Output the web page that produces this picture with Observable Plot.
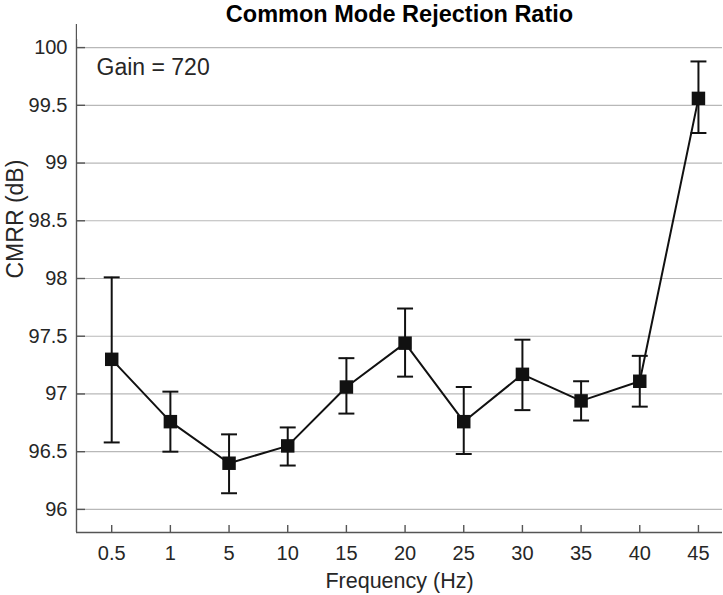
<!DOCTYPE html>
<html>
<head>
<meta charset="utf-8">
<script src="https://cdn.jsdelivr.net/npm/d3@7"></script>
<script src="https://cdn.jsdelivr.net/npm/@observablehq/plot@0.6"></script>
<style>
  html, body { margin: 0; padding: 0; background: #fff; }
  #chart { width: 723px; height: 595px; }
</style>
</head>
<body>
<div id="chart"></div>
<script>
const chartTitle = "Common Mode Rejection Ratio";
const xLabel = "Frequency (Hz)";
const yLabel = "CMRR (dB)";
const annotation = "Gain = 720";

const freqLabels = ["0.5", "1", "5", "10", "15", "20", "25", "30", "35", "40", "45"];
const cmrr     = [97.30, 96.76, 96.40, 96.55, 97.06, 97.44, 96.76, 97.17, 96.94, 97.11, 99.56];
const errUpper = [98.01, 97.02, 96.65, 96.71, 97.31, 97.74, 97.06, 97.47, 97.11, 97.33, 99.88];
const errLower = [96.58, 96.50, 96.14, 96.38, 96.83, 97.15, 96.48, 96.86, 96.77, 96.89, 99.26];
const yTicks = [96, 96.5, 97, 97.5, 98, 98.5, 99, 99.5, 100];
const yDomain = [95.8, 100.2];
const xDomain = [0.4, 11.41];

const data = freqLabels.map((f, k) => ({
  idx: k + 1, freq: f, v: cmrr[k], hi: errUpper[k], lo: errLower[k]
}));
const xIdx = data.map(d => d.idx);

const capSymbol = {
  draw(context, size) {
    const w = Math.sqrt(size);
    context.moveTo(-w / 2, 0);
    context.lineTo(w / 2, 0);
  }
};

const ink = "#111111";
const textColor = "#262626";

const plot = Plot.plot({
  width: 723,
  height: 595,
  marginTop: 24,
  marginBottom: 63,
  marginLeft: 76,
  marginRight: 1,
  style: { fontFamily: "'Liberation Sans', Arial, sans-serif", color: textColor, background: "#fff" },
  x: { type: "linear", domain: xDomain },
  y: { domain: yDomain },
  marks: [
    Plot.gridY(yTicks, { stroke: "#b8b8b8", strokeOpacity: 1, strokeWidth: 1.2 }),
    Plot.ruleX([xDomain[0]], { stroke: "#555", strokeWidth: 1.4 }),
    Plot.ruleY([yDomain[0]], { stroke: "#555", strokeWidth: 1.4 }),
    Plot.axisY(yTicks, {
      tickSize: -9, tickPadding: 18, stroke: "#555", strokeWidth: 1.4,
      fontSize: 20, fill: textColor, label: null,
      tickFormat: d => String(d)
    }),
    Plot.axisX(xIdx, {
      tickSize: -7, tickPadding: 20, stroke: "#555", strokeWidth: 1.4,
      fontSize: 20, fill: textColor, label: null,
      tickFormat: d => freqLabels[d - 1]
    }),
    Plot.text([annotation], {
      frameAnchor: "top-left", dx: 20, dy: 50, lineAnchor: "bottom",
      textAnchor: "start", fontSize: 23, fill: textColor, className: "gain-label"
    }),
    Plot.ruleX(data, { x: "idx", y1: "lo", y2: "hi", stroke: ink, strokeWidth: 2 }),
    Plot.dot(data, { x: "idx", y: "hi", symbol: capSymbol, r: 9, stroke: ink, strokeWidth: 2 }),
    Plot.dot(data, { x: "idx", y: "lo", symbol: capSymbol, r: 9, stroke: ink, strokeWidth: 2 }),
    Plot.line(data, { x: "idx", y: "v", stroke: ink, strokeWidth: 2 }),
    Plot.dot(data, { x: "idx", y: "v", symbol: "square", r: 7.6, fill: ink, stroke: "none" }),
    Plot.text([chartTitle], {
      frameAnchor: "top", dy: -3, lineAnchor: "bottom",
      fontSize: 23.5, fontWeight: "bold", fill: "#000"
    }),
    Plot.text([xLabel], {
      frameAnchor: "bottom", dy: 55, lineAnchor: "bottom",
      fontSize: 21.5, fill: textColor
    }),
    Plot.text([yLabel], {
      frameAnchor: "left", dx: -61, rotate: -90, lineAnchor: "middle",
      fontSize: 23, fill: textColor
    })
  ]
});

document.getElementById("chart").appendChild(plot);

// white backing box behind the annotation (as in the original figure)
const svg = d3.select(plot);
const gainG = svg.select(".gain-label");
if (!gainG.empty()) {
  const bb = gainG.node().getBBox();
  svg.insert("rect", ".gain-label")
    .attr("x", 77)
    .attr("y", bb.y - 14)
    .attr("width", bb.x + bb.width + 26 - 77)
    .attr("height", bb.height + 24)
    .attr("fill", "#fff");
}
</script>
</body>
</html>
